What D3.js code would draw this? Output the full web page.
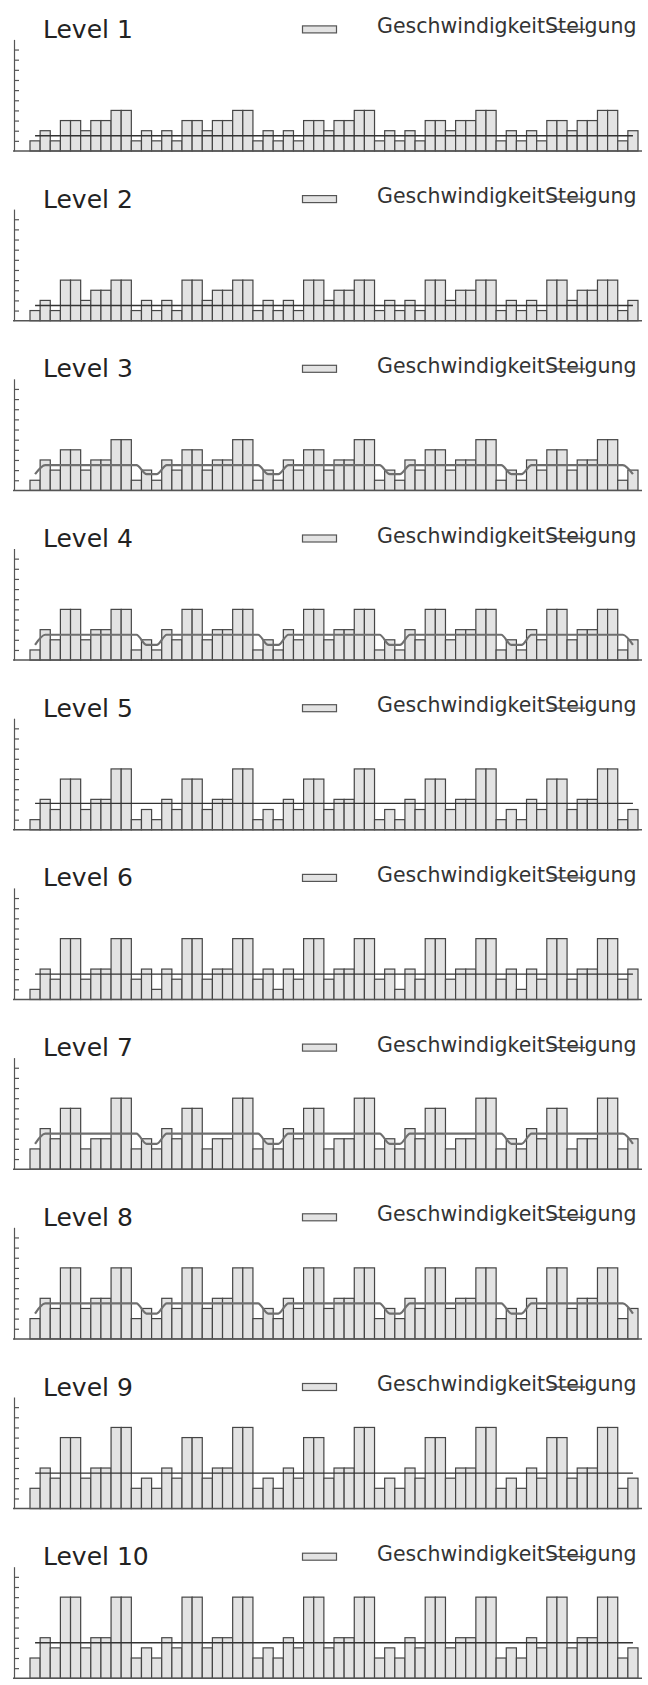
<!DOCTYPE html>
<html>
<head>
<meta charset="utf-8">
<script src="https://cdn.jsdelivr.net/npm/d3@7"></script>
<style>
body { margin: 0; background: #fff; }
svg { display: block; font-family: "DejaVu Sans", Verdana, sans-serif; }
</style>
</head>
<body>
<div id="my_dataviz"></div>
<script>
// panel titles and legend labels
var titles = ["Level 1", "Level 2", "Level 3", "Level 4", "Level 5",
    "Level 6", "Level 7", "Level 8", "Level 9", "Level 10"];
var seriesNames = ["Geschwindigkeit", "Steigung"];
var tickValues = [1, 2, 3, 4, 5, 6, 7, 8, 9, 10];

// bar values (Geschwindigkeit), 60 steps per level
var speed1 = [1,2,1,3,3,2,3,3,4,4,1,2, 1,2,1,3,3,2,3,3,4,4,1,2, 1,2,1,3,3,2,3,3,4,4,1,2, 1,2,1,3,3,2,3,3,4,4,1,2, 1,2,1,3,3,2,3,3,4,4,1,2];
var speed2 = [1,2,1,4,4,2,3,3,4,4,1,2, 1,2,1,4,4,2,3,3,4,4,1,2, 1,2,1,4,4,2,3,3,4,4,1,2, 1,2,1,4,4,2,3,3,4,4,1,2, 1,2,1,4,4,2,3,3,4,4,1,2];
var speed3 = [1,3,2,4,4,2,3,3,5,5,1,2, 1,3,2,4,4,2,3,3,5,5,1,2, 1,3,2,4,4,2,3,3,5,5,1,2, 1,3,2,4,4,2,3,3,5,5,1,2, 1,3,2,4,4,2,3,3,5,5,1,2];
var speed4 = [1,3,2,5,5,2,3,3,5,5,1,2, 1,3,2,5,5,2,3,3,5,5,1,2, 1,3,2,5,5,2,3,3,5,5,1,2, 1,3,2,5,5,2,3,3,5,5,1,2, 1,3,2,5,5,2,3,3,5,5,1,2];
var speed5 = [1,3,2,5,5,2,3,3,6,6,1,2, 1,3,2,5,5,2,3,3,6,6,1,2, 1,3,2,5,5,2,3,3,6,6,1,2, 1,3,2,5,5,2,3,3,6,6,1,2, 1,3,2,5,5,2,3,3,6,6,1,2];
var speed6 = [1,3,2,6,6,2,3,3,6,6,2,3, 1,3,2,6,6,2,3,3,6,6,2,3, 1,3,2,6,6,2,3,3,6,6,2,3, 1,3,2,6,6,2,3,3,6,6,2,3, 1,3,2,6,6,2,3,3,6,6,2,3];
var speed7 = [2,4,3,6,6,2,3,3,7,7,2,3, 2,4,3,6,6,2,3,3,7,7,2,3, 2,4,3,6,6,2,3,3,7,7,2,3, 2,4,3,6,6,2,3,3,7,7,2,3, 2,4,3,6,6,2,3,3,7,7,2,3];
var speed8 = [2,4,3,7,7,3,4,4,7,7,2,3, 2,4,3,7,7,3,4,4,7,7,2,3, 2,4,3,7,7,3,4,4,7,7,2,3, 2,4,3,7,7,3,4,4,7,7,2,3, 2,4,3,7,7,3,4,4,7,7,2,3];
var speed9 = [2,4,3,7,7,3,4,4,8,8,2,3, 2,4,3,7,7,3,4,4,8,8,2,3, 2,4,3,7,7,3,4,4,8,8,2,3, 2,4,3,7,7,3,4,4,8,8,2,3, 2,4,3,7,7,3,4,4,8,8,2,3];
var speed10 = [2,4,3,8,8,3,4,4,8,8,2,3, 2,4,3,8,8,3,4,4,8,8,2,3, 2,4,3,8,8,3,4,4,8,8,2,3, 2,4,3,8,8,3,4,4,8,8,2,3, 2,4,3,8,8,3,4,4,8,8,2,3];

// line values (Steigung)
var slope1 = [1.5,1.5,1.5,1.5,1.5,1.5,1.5,1.5,1.5,1.5,1.5,1.5, 1.5,1.5,1.5,1.5,1.5,1.5,1.5,1.5,1.5,1.5,1.5,1.5, 1.5,1.5,1.5,1.5,1.5,1.5,1.5,1.5,1.5,1.5,1.5,1.5, 1.5,1.5,1.5,1.5,1.5,1.5,1.5,1.5,1.5,1.5,1.5,1.5, 1.5,1.5,1.5,1.5,1.5,1.5,1.5,1.5,1.5,1.5,1.5,1.5];
var slope2 = [1.5,1.5,1.5,1.5,1.5,1.5,1.5,1.5,1.5,1.5,1.5,1.5, 1.5,1.5,1.5,1.5,1.5,1.5,1.5,1.5,1.5,1.5,1.5,1.5, 1.5,1.5,1.5,1.5,1.5,1.5,1.5,1.5,1.5,1.5,1.5,1.5, 1.5,1.5,1.5,1.5,1.5,1.5,1.5,1.5,1.5,1.5,1.5,1.5, 1.5,1.5,1.5,1.5,1.5,1.5,1.5,1.5,1.5,1.5,1.5,1.5];
var slope3 = [1.6,2.5,2.5,2.5,2.5,2.5,2.5,2.5,2.5,2.5,2.5,1.6, 1.6,2.5,2.5,2.5,2.5,2.5,2.5,2.5,2.5,2.5,2.5,1.6, 1.6,2.5,2.5,2.5,2.5,2.5,2.5,2.5,2.5,2.5,2.5,1.6, 1.6,2.5,2.5,2.5,2.5,2.5,2.5,2.5,2.5,2.5,2.5,1.6, 1.6,2.5,2.5,2.5,2.5,2.5,2.5,2.5,2.5,2.5,2.5,1.6];
var slope4 = [1.5,2.5,2.5,2.5,2.5,2.5,2.5,2.5,2.5,2.5,2.5,1.5, 1.5,2.5,2.5,2.5,2.5,2.5,2.5,2.5,2.5,2.5,2.5,1.5, 1.5,2.5,2.5,2.5,2.5,2.5,2.5,2.5,2.5,2.5,2.5,1.5, 1.5,2.5,2.5,2.5,2.5,2.5,2.5,2.5,2.5,2.5,2.5,1.5, 1.5,2.5,2.5,2.5,2.5,2.5,2.5,2.5,2.5,2.5,2.5,1.5];
var slope5 = [2.6,2.6,2.6,2.6,2.6,2.6,2.6,2.6,2.6,2.6,2.6,2.6, 2.6,2.6,2.6,2.6,2.6,2.6,2.6,2.6,2.6,2.6,2.6,2.6, 2.6,2.6,2.6,2.6,2.6,2.6,2.6,2.6,2.6,2.6,2.6,2.6, 2.6,2.6,2.6,2.6,2.6,2.6,2.6,2.6,2.6,2.6,2.6,2.6, 2.6,2.6,2.6,2.6,2.6,2.6,2.6,2.6,2.6,2.6,2.6,2.6];
var slope6 = [2.5,2.5,2.5,2.5,2.5,2.5,2.5,2.5,2.5,2.5,2.5,2.5, 2.5,2.5,2.5,2.5,2.5,2.5,2.5,2.5,2.5,2.5,2.5,2.5, 2.5,2.5,2.5,2.5,2.5,2.5,2.5,2.5,2.5,2.5,2.5,2.5, 2.5,2.5,2.5,2.5,2.5,2.5,2.5,2.5,2.5,2.5,2.5,2.5, 2.5,2.5,2.5,2.5,2.5,2.5,2.5,2.5,2.5,2.5,2.5,2.5];
var slope7 = [2.5,3.5,3.5,3.5,3.5,3.5,3.5,3.5,3.5,3.5,3.5,2.5, 2.5,3.5,3.5,3.5,3.5,3.5,3.5,3.5,3.5,3.5,3.5,2.5, 2.5,3.5,3.5,3.5,3.5,3.5,3.5,3.5,3.5,3.5,3.5,2.5, 2.5,3.5,3.5,3.5,3.5,3.5,3.5,3.5,3.5,3.5,3.5,2.5, 2.5,3.5,3.5,3.5,3.5,3.5,3.5,3.5,3.5,3.5,3.5,2.5];
var slope8 = [2.5,3.5,3.5,3.5,3.5,3.5,3.5,3.5,3.5,3.5,3.5,2.5, 2.5,3.5,3.5,3.5,3.5,3.5,3.5,3.5,3.5,3.5,3.5,2.5, 2.5,3.5,3.5,3.5,3.5,3.5,3.5,3.5,3.5,3.5,3.5,2.5, 2.5,3.5,3.5,3.5,3.5,3.5,3.5,3.5,3.5,3.5,3.5,2.5, 2.5,3.5,3.5,3.5,3.5,3.5,3.5,3.5,3.5,3.5,3.5,2.5];
var slope9 = [3.5,3.5,3.5,3.5,3.5,3.5,3.5,3.5,3.5,3.5,3.5,3.5, 3.5,3.5,3.5,3.5,3.5,3.5,3.5,3.5,3.5,3.5,3.5,3.5, 3.5,3.5,3.5,3.5,3.5,3.5,3.5,3.5,3.5,3.5,3.5,3.5, 3.5,3.5,3.5,3.5,3.5,3.5,3.5,3.5,3.5,3.5,3.5,3.5, 3.5,3.5,3.5,3.5,3.5,3.5,3.5,3.5,3.5,3.5,3.5,3.5];
var slope10 = [3.5,3.5,3.5,3.5,3.5,3.5,3.5,3.5,3.5,3.5,3.5,3.5, 3.5,3.5,3.5,3.5,3.5,3.5,3.5,3.5,3.5,3.5,3.5,3.5, 3.5,3.5,3.5,3.5,3.5,3.5,3.5,3.5,3.5,3.5,3.5,3.5, 3.5,3.5,3.5,3.5,3.5,3.5,3.5,3.5,3.5,3.5,3.5,3.5, 3.5,3.5,3.5,3.5,3.5,3.5,3.5,3.5,3.5,3.5,3.5,3.5];

(function(){
var speeds = [speed1, speed2, speed3, speed4, speed5, speed6, speed7, speed8, speed9, speed10];
var slopes = [slope1, slope2, slope3, slope4, slope5, slope6, slope7, slope8, slope9, slope10];
// levels 3, 4, 7, 8 draw a smoothed grey line
var smooth = [false, false, true, true, false, false, true, true, false, false];

var width = 648, height = 1685;
var firstBase = 151, step = 169.7, plotH = 111.6;

var svg = d3.select("#my_dataviz")
    .append("svg")
    .attr("width", width)
    .attr("height", height);

svg.append("rect")
    .attr("width", width)
    .attr("height", height)
    .attr("fill", "#fff");

var x = d3.scaleBand()
    .domain(d3.range(speed1.length))
    .range([30, 638])
    .padding(0);

var y = d3.scaleLinear()
    .domain([0, 11])
    .range([plotH, 0]);

titles.forEach(function (title, i) {
    var g = svg.append("g")
        .attr("transform", "translate(0," + (firstBase + i * step - plotH) + ")");

    // title
    g.append("text")
        .attr("x", 43)
        .attr("y", -1.5)
        .style("font-size", "25px")
        .attr("fill", "#222")
        .text(title);

    // legend: bar swatch, then the line swatch lands on the second label
    g.append("rect")
        .attr("x", 302.5)
        .attr("y", -13.5)
        .attr("width", 34)
        .attr("height", 7)
        .attr("fill", "#e3e3e3")
        .attr("stroke", "#555")
        .attr("stroke-width", 1.2);
    var leg = g.append("text")
        .attr("x", 377)
        .attr("y", -6)
        .style("font-size", "20.5px")
        .attr("fill", "#333");
    leg.append("tspan").text(seriesNames[0]);
    leg.append("tspan").text(seriesNames[1]);
    g.append("line")
        .attr("x1", 549)
        .attr("x2", 585)
        .attr("y1", -10)
        .attr("y2", -10)
        .attr("stroke", "#444")
        .attr("stroke-width", 1.3);

    // bars
    g.selectAll(".bar")
        .data(speeds[i])
        .enter()
        .append("rect")
        .attr("class", "bar")
        .attr("x", function (d, j) { return x(j); })
        .attr("y", function (d) { return y(d); })
        .attr("width", x.bandwidth())
        .attr("height", function (d) { return y(0) - y(d); })
        .attr("fill", "#e3e3e3")
        .attr("stroke", "#454545")
        .attr("stroke-width", 1.2);

    // line
    g.append("path")
        .datum(slopes[i])
        .attr("fill", "none")
        .attr("stroke", smooth[i] ? "#6f6f6f" : "#333")
        .attr("stroke-width", smooth[i] ? 2.2 : 1.4)
        .attr("d", d3.line()
            .x(function (d, j) { return x(j) + x.bandwidth() / 2; })
            .y(function (d) { return y(d); })
            .curve(smooth[i] ? d3.curveMonotoneX : d3.curveLinear));

    // y axis with inward ticks, no labels
    g.append("g")
        .attr("transform", "translate(14,0)")
        .call(d3.axisLeft(y).tickValues(tickValues).tickSize(-5).tickSizeOuter(0).tickFormat(""))
        .call(function (a) {
            a.selectAll("path, line").attr("stroke", "#555").attr("stroke-width", 1.2);
        });

    // x axis baseline
    g.append("line")
        .attr("x1", 13)
        .attr("x2", 642)
        .attr("y1", y(0))
        .attr("y2", y(0))
        .attr("stroke", "#555")
        .attr("stroke-width", 1.5);
});
})();
</script>
</body>
</html>
